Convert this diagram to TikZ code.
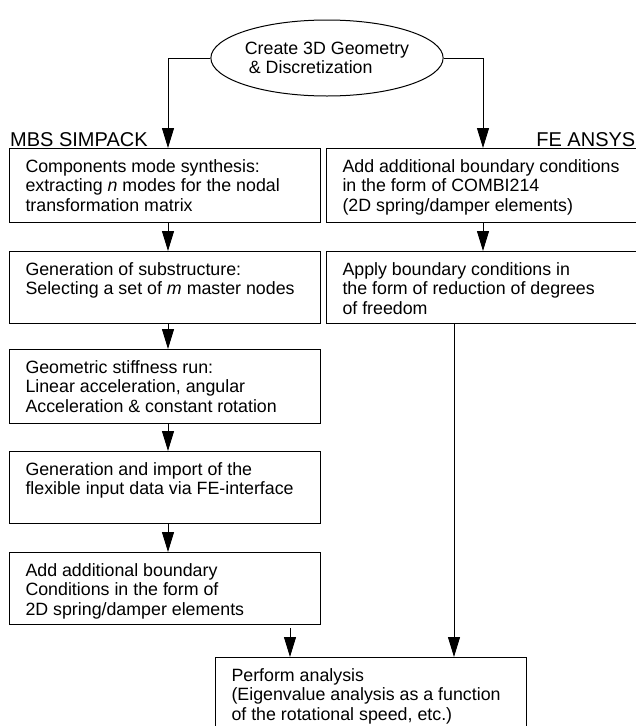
\documentclass[tikz,border=0pt]{standalone}
\usepackage{fontspec}
\setmainfont{Liberation Sans}
\usetikzlibrary{shapes.geometric,arrows.meta}

\newcommand{\boxlines}[3]{\parbox[t][#2][t]{#1}{\raggedright\leftskip=16pt\rule{0pt}{24pt}#3}}

\tikzset{
  frame/.style={draw, line width=1pt, inner sep=0pt, anchor=north west},
  arr/.style={line width=1pt, -{Triangle[length=20pt,width=12pt]}},
  flowfont/.style={font=\fontsize{17.8pt}{19.3pt}\selectfont},
  sidelabel/.style={inner sep=0pt, font=\fontsize{20pt}{22pt}\selectfont},
}

\begin{document}
\begin{tikzpicture}[x=1pt, y=-1pt, flowfont]
    \useasboundingbox (0,0) rectangle (636,726);

    \node[draw, ellipse, line width=1pt, minimum width=220pt, minimum height=76pt,
          inner sep=0pt, align=left] (geo) at (327,58)
          {Create 3D Geometry\\\hspace*{4pt}\& Discretization};

    \node[sidelabel, anchor=base west] (mbslabel) at (10,146) {MBS SIMPACK};
    \node[sidelabel, anchor=base east] (felabel) at (635.5,146) {FE ANSYS};

    \node[frame] (mbs1) at (9,148) {\boxlines{311pt}{74pt}{Components mode synthesis:\\extracting \textit{n} modes for the nodal\\transformation matrix}};
    \node[frame] (mbs2) at (9,251) {\boxlines{311pt}{72pt}{Generation of substructure:\\Selecting a set of \textit{m} master nodes}};
    \node[frame] (mbs3) at (9,349) {\boxlines{311pt}{74pt}{Geometric stiffness run:\\Linear acceleration, angular\\Acceleration \& constant rotation}};
    \node[frame] (mbs4) at (9,451) {\boxlines{311pt}{72pt}{Generation and import of the\\flexible input data via FE-interface}};
    \node[frame] (mbs5) at (9,552) {\boxlines{311pt}{72pt}{Add additional boundary\\Conditions in the form of\\2D spring/damper elements}};

    \node[frame] (fe1) at (326,148) {\boxlines{309.5pt}{74pt}{Add additional boundary conditions\\in the form of COMBI214\\(2D spring/damper elements)}};
    \node[frame] (fe2) at (326,251) {\boxlines{309.5pt}{72pt}{Apply boundary conditions in\\the form of reduction of degrees\\of freedom}};

    \node[frame] (perf) at (215,657) {\boxlines{311pt}{76pt}{Perform analysis\\(Eigenvalue analysis as a function\\of the rotational speed, etc.)}};

    \coordinate (lcol) at (168,0);
    \coordinate (rcol) at (483,0);
    \coordinate (ljoin) at (290,0);
    \coordinate (rjoin) at (454,0);

    \draw[arr] (geo.west) -| (lcol |- mbs1.north);
    \draw[arr] (geo.east) -| (rcol |- fe1.north);

    \draw[arr] (lcol |- mbs1.south) -- (lcol |- mbs2.north);
    \draw[arr] (lcol |- mbs2.south) -- (lcol |- mbs3.north);
    \draw[arr] (lcol |- mbs3.south) -- (lcol |- mbs4.north);
    \draw[arr] (lcol |- mbs4.south) -- (lcol |- mbs5.north);
    \draw[arr] (rcol |- fe1.south) -- (rcol |- fe2.north);

    \draw[arr, shorten <=3pt] (ljoin |- mbs5.south) -- (ljoin |- perf.north);
    \draw[arr] (rjoin |- fe2.south) -- (rjoin |- perf.north);
\end{tikzpicture}
\end{document}
